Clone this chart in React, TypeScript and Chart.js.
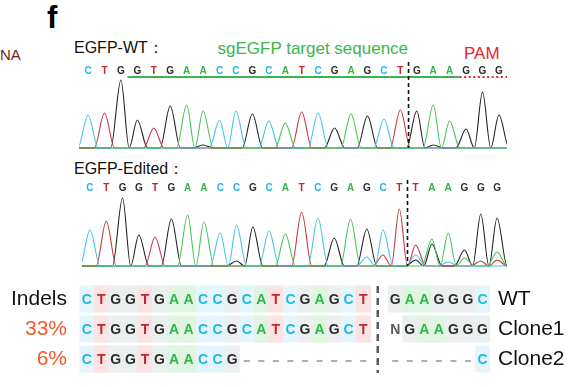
import React, { useEffect, useRef } from 'react';
import { Chart, registerables } from 'chart.js';

Chart.register(...registerables);

// ---------- data ----------
const WT_BASES = ['C','T','G','G','T','G','A','A','C','C','G','C','A','T','C','G','A','G','C','T','G','A','A','G','G','G'];
const ED_BASES = ['C','T','G','G','T','G','A','A','C','C','G','C','A','T','C','G','A','G','C','T','T','A','A','G','G','G'];

// peak heights per base position, per channel (WT trace)
const WT_A = [0,0,0,0,0,0,43,37,0,0,0,0,25,0,0,0,34,0,0,0,0,43,27,0,0,0];
const WT_C = [33,0,0,0,0,0,0,0,28,37,0,27,0,0,35,0,0,0,29,0,0,0,0,0,0,0];
const WT_G = [0,0,68,28,0,42,0,3,0,0,34,0,0,0,0,20,0,32,0,0,37,3,0,19,56,33];
const WT_T = [0,35,0,0,20,0,0,0,0,0,0,0,0,36,0,0,0,0,0,38,0,0,0,0,0,0];

// edited trace
const ED_A = [0,0,0,0,0,0,51,44,0,0,0,0,32,0,0,0,47,0,0,0,0,27,33,8,0,14];
const ED_C = [36,0,0,0,0,0,0,0,33,41,0,35,0,0,48,0,0,9,36,0,11,0,4,0,0,0];
const ED_G = [0,0,68,31,0,47,0,0,0,5,39,0,0,0,0,28,0,37,0,0,6,22,0,16,52,48];
const ED_T = [0,45,0,0,29,0,0,0,0,0,0,0,0,54,0,0,0,0,11,57,21,0,0,0,5,6];

const TARGET_FIRST = 3;   // sgEGFP target: bases 3..22
const TARGET_LAST = 22;
const PAM_LAST = 25;
const CUT_AFTER = 19;     // cut between base 19 and 20

// alignment table
const ROW_LABELS = ['Indels', '33%', '6%'];
const CLONE_LABELS = ['WT', 'Clone1', 'Clone2'];
const ROW_LEFT = ['CTGGTGAACCGCATCGAGCT', 'CTGGTGAACCGCATCGAGCT', 'CTGGTGAACCG---------'];
const ROW_RIGHT = ['GAAGGGC', 'NGAAGGG', '------C'];

// ---------- styles ----------
const FONT = '"Liberation Sans", Arial, Helvetica, sans-serif';
const PEAK_COLORS: Record<string, string> = { A: '#45c655', C: '#3fc5ea', G: '#222222', T: '#c8363c' };
const LETTER_COLORS: Record<string, string> = { A: '#2fb548', C: '#22b5e8', G: '#2b2b2b', T: '#c1272d', N: '#5a5a5a' };
const CELL_COLORS: Record<string, string> = { A: '#e0f5e1', C: '#e4f6fc', G: '#eceff0', T: '#fbe3e4' };
const ROW_LABEL_COLORS = ['#111111', '#f15a29', '#f15a29'];
const FOOT = 0.62; // half-width of an isolated peak, in bases

function traceData(heights: number[]) {
  const pts: { x: number; y: number }[] = [{ x: -1.5, y: 0 }];
  heights.forEach((h, i) => {
    if (h <= 0) return;
    const prev = i > 0 ? heights[i - 1] : 0;
    const next = i < heights.length - 1 ? heights[i + 1] : 0;
    if (prev <= 0) pts.push({ x: i - FOOT, y: 0 });
    pts.push({ x: i, y: h });
    pts.push({ x: next > 0 ? i + 0.5 : i + FOOT, y: 0 });
  });
  pts.push({ x: heights.length + 1, y: 0 });
  return pts;
}

type ChromaProps = {
  bases: string[];
  peaks: Record<string, number[]>;
  xMin: number;
  xMax: number;
  letterLevel: number;
  cutTop: number;
  guide: boolean;
};

function chromaConfig(p: ChromaProps): any {
  const datasets = ['A', 'C', 'T', 'G'].map((ch) => ({
    label: ch,
    data: traceData(p.peaks[ch]),
    borderColor: PEAK_COLORS[ch],
    borderWidth: 1.1,
    pointRadius: 0,
    fill: false,
    cubicInterpolationMode: 'monotone',
  }));
  const marks = {
    id: 'chromaMarks',
    afterDatasetsDraw(chart: any) {
      const { ctx } = chart;
      const xs = chart.scales.x;
      const ys = chart.scales.y;
      ctx.save();
      ctx.font = `bold 10px ${FONT}`;
      ctx.textAlign = 'center';
      ctx.textBaseline = 'middle';
      const ly = ys.getPixelForValue(p.letterLevel);
      p.bases.forEach((b, i) => {
        ctx.fillStyle = LETTER_COLORS[b];
        ctx.fillText(b, xs.getPixelForValue(i), ly);
      });
      if (p.guide) {
        const gy = ys.getPixelForValue(p.letterLevel - 6);
        ctx.strokeStyle = '#3cb54a';
        ctx.lineWidth = 2.2;
        ctx.beginPath();
        ctx.moveTo(xs.getPixelForValue(TARGET_FIRST - 0.6), gy);
        ctx.lineTo(xs.getPixelForValue(TARGET_LAST + 0.6), gy);
        ctx.stroke();
        ctx.strokeStyle = '#e8262a';
        ctx.setLineDash([2, 2.6]);
        ctx.beginPath();
        ctx.moveTo(xs.getPixelForValue(TARGET_LAST + 0.6), gy);
        ctx.lineTo(xs.getPixelForValue(PAM_LAST + 0.5), gy);
        ctx.stroke();
      }
      const cx = xs.getPixelForValue(CUT_AFTER + 0.5);
      ctx.strokeStyle = '#111111';
      ctx.lineWidth = 1.6;
      ctx.setLineDash([4, 3]);
      ctx.beginPath();
      ctx.moveTo(cx, ys.getPixelForValue(p.cutTop));
      ctx.lineTo(cx, ys.getPixelForValue(0));
      ctx.stroke();
      ctx.restore();
    },
  };
  return {
    type: 'line',
    data: { datasets },
    options: {
      animation: false,
      responsive: false,
      events: [],
      layout: { padding: 0 },
      plugins: { legend: { display: false }, tooltip: { enabled: false } },
      scales: {
        x: { type: 'linear', min: p.xMin, max: p.xMax, display: false },
        y: { type: 'linear', min: -2, max: 88, display: false },
      },
    },
    plugins: [marks],
  };
}

function tableConfig(): any {
  const marks = {
    id: 'tableMarks',
    afterDraw(chart: any) {
      const { ctx } = chart;
      const xs = chart.scales.x;
      const ys = chart.scales.y;
      const cw = xs.getPixelForValue(1) - xs.getPixelForValue(0);
      const ch = 27;
      ctx.save();
      ROW_LABELS.forEach((_, r) => {
        const cy = ys.getPixelForValue(r);
        const cols: { v: number; b: string }[] = [];
        ROW_LEFT[r].split('').forEach((b, i) => cols.push({ v: i, b }));
        ROW_RIGHT[r].split('').forEach((b, i) => cols.push({ v: ROW_LEFT[r].length + 1.2 + i, b }));
        cols.forEach(({ v, b }) => {
          const px = xs.getPixelForValue(v);
          if (CELL_COLORS[b]) {
            ctx.fillStyle = CELL_COLORS[b];
            ctx.fillRect(px - cw / 2, cy - ch / 2, cw + 0.4, ch);
          }
        });
        ctx.font = `bold 14px ${FONT}`;
        ctx.textAlign = 'center';
        ctx.textBaseline = 'middle';
        cols.forEach(({ v, b }) => {
          const px = xs.getPixelForValue(v);
          if (b === '-') {
            ctx.strokeStyle = '#9a9a9a';
            ctx.lineWidth = 1.6;
            ctx.beginPath();
            ctx.moveTo(px - 3, cy + 2);
            ctx.lineTo(px + 3, cy + 2);
            ctx.stroke();
          } else {
            ctx.fillStyle = LETTER_COLORS[b];
            ctx.fillText(b, px, cy + 1);
          }
        });
      });
      const sx = xs.getPixelForValue(ROW_LEFT[0].length);
      ctx.strokeStyle = '#5a5a5a';
      ctx.lineWidth = 2.5;
      ctx.setLineDash([7, 5]);
      ctx.beginPath();
      ctx.moveTo(sx, ys.getPixelForValue(0) - 13);
      ctx.lineTo(sx, ys.getPixelForValue(2) + 14);
      ctx.stroke();
      ctx.restore();
    },
  };
  const axisCommon = {
    type: 'category',
    offset: true,
    grid: { display: false, drawTicks: false },
    border: { display: false },
  };
  return {
    type: 'scatter',
    data: { datasets: [] },
    options: {
      animation: false,
      responsive: false,
      events: [],
      layout: { padding: { top: 4, bottom: 6, left: 0, right: 0 } },
      plugins: { legend: { display: false }, tooltip: { enabled: false } },
      scales: {
        x: { type: 'linear', min: -1.01, max: 27.92, display: false },
        y: {
          ...axisCommon,
          labels: ROW_LABELS,
          position: 'left',
          ticks: { autoSkip: false, color: (c: any) => ROW_LABEL_COLORS[c.index], font: { size: 21, family: FONT }, padding: 5 },
          afterFit: (s: any) => { s.width = 72; s.paddingTop = 0; s.paddingBottom = 0; },
        },
        y2: {
          ...axisCommon,
          labels: CLONE_LABELS,
          position: 'right',
          ticks: { autoSkip: false, color: '#111111', font: { size: 21, family: FONT }, padding: 5 },
          afterFit: (s: any) => { s.width = 92; s.paddingTop = 0; s.paddingBottom = 0; },
        },
      },
    },
    plugins: [marks],
  };
}

function ChartCanvas({ make, left, top, width, height }: { make: () => any; left: number; top: number; width: number; height: number }) {
  const ref = useRef<HTMLCanvasElement>(null);
  useEffect(() => {
    const chart = new Chart(ref.current as HTMLCanvasElement, make());
    return () => chart.destroy();
  }, []);
  return (
    <canvas
      ref={ref}
      width={width}
      height={height}
      style={{ position: 'absolute', left, top, width, height, display: 'block' }}
    />
  );
}

function Label({ text, left, top, size, color, bold }: { text: string; left: number; top: number; size: number; color: string; bold?: boolean }) {
  return (
    <div
      style={{
        position: 'absolute', left, top, fontSize: size, lineHeight: 1, color,
        fontFamily: FONT, fontWeight: bold ? 'bold' : 'normal', whiteSpace: 'nowrap',
      }}
    >
      {text}
    </div>
  );
}

export default function App() {
  return (
    <div style={{ position: 'absolute', left: 0, top: 0, width: 585, height: 387, background: '#ffffff', overflow: 'hidden' }}>
      <Label text="NA" left={0} top={46.5} size={15} color="#7b1a1a" />
      <Label text="f" left={47} top={2} size={31} color="#000000" bold />
      <Label text="EGFP-WT：" left={74} top={40} size={16} color="#111111" />
      <Label text="sgEGFP target sequence" left={217.5} top={40} size={17} color="#3cb54a" />
      <Label text="PAM" left={464} top={44.7} size={17} color="#e8262a" />
      <Label text="EGFP-Edited：" left={74} top={160.7} size={16} color="#111111" />
      <ChartCanvas
        left={79} top={60} width={428} height={90}
        make={() => chromaConfig({
          bases: WT_BASES, peaks: { A: WT_A, C: WT_C, G: WT_G, T: WT_T },
          xMin: -0.55, xMax: 25.49, letterLevel: 77, cutTop: 86, guide: true,
        })}
      />
      <ChartCanvas
        left={82} top={178} width={425} height={90}
        make={() => chromaConfig({
          bases: ED_BASES, peaks: { A: ED_A, C: ED_C, G: ED_G, T: ED_T },
          xMin: -0.49, xMax: 25.61, letterLevel: 78, cutTop: 86, guide: false,
        })}
      />
      <ChartCanvas left={0} top={280} width={585} height={100} make={tableConfig} />
    </div>
  );
}
